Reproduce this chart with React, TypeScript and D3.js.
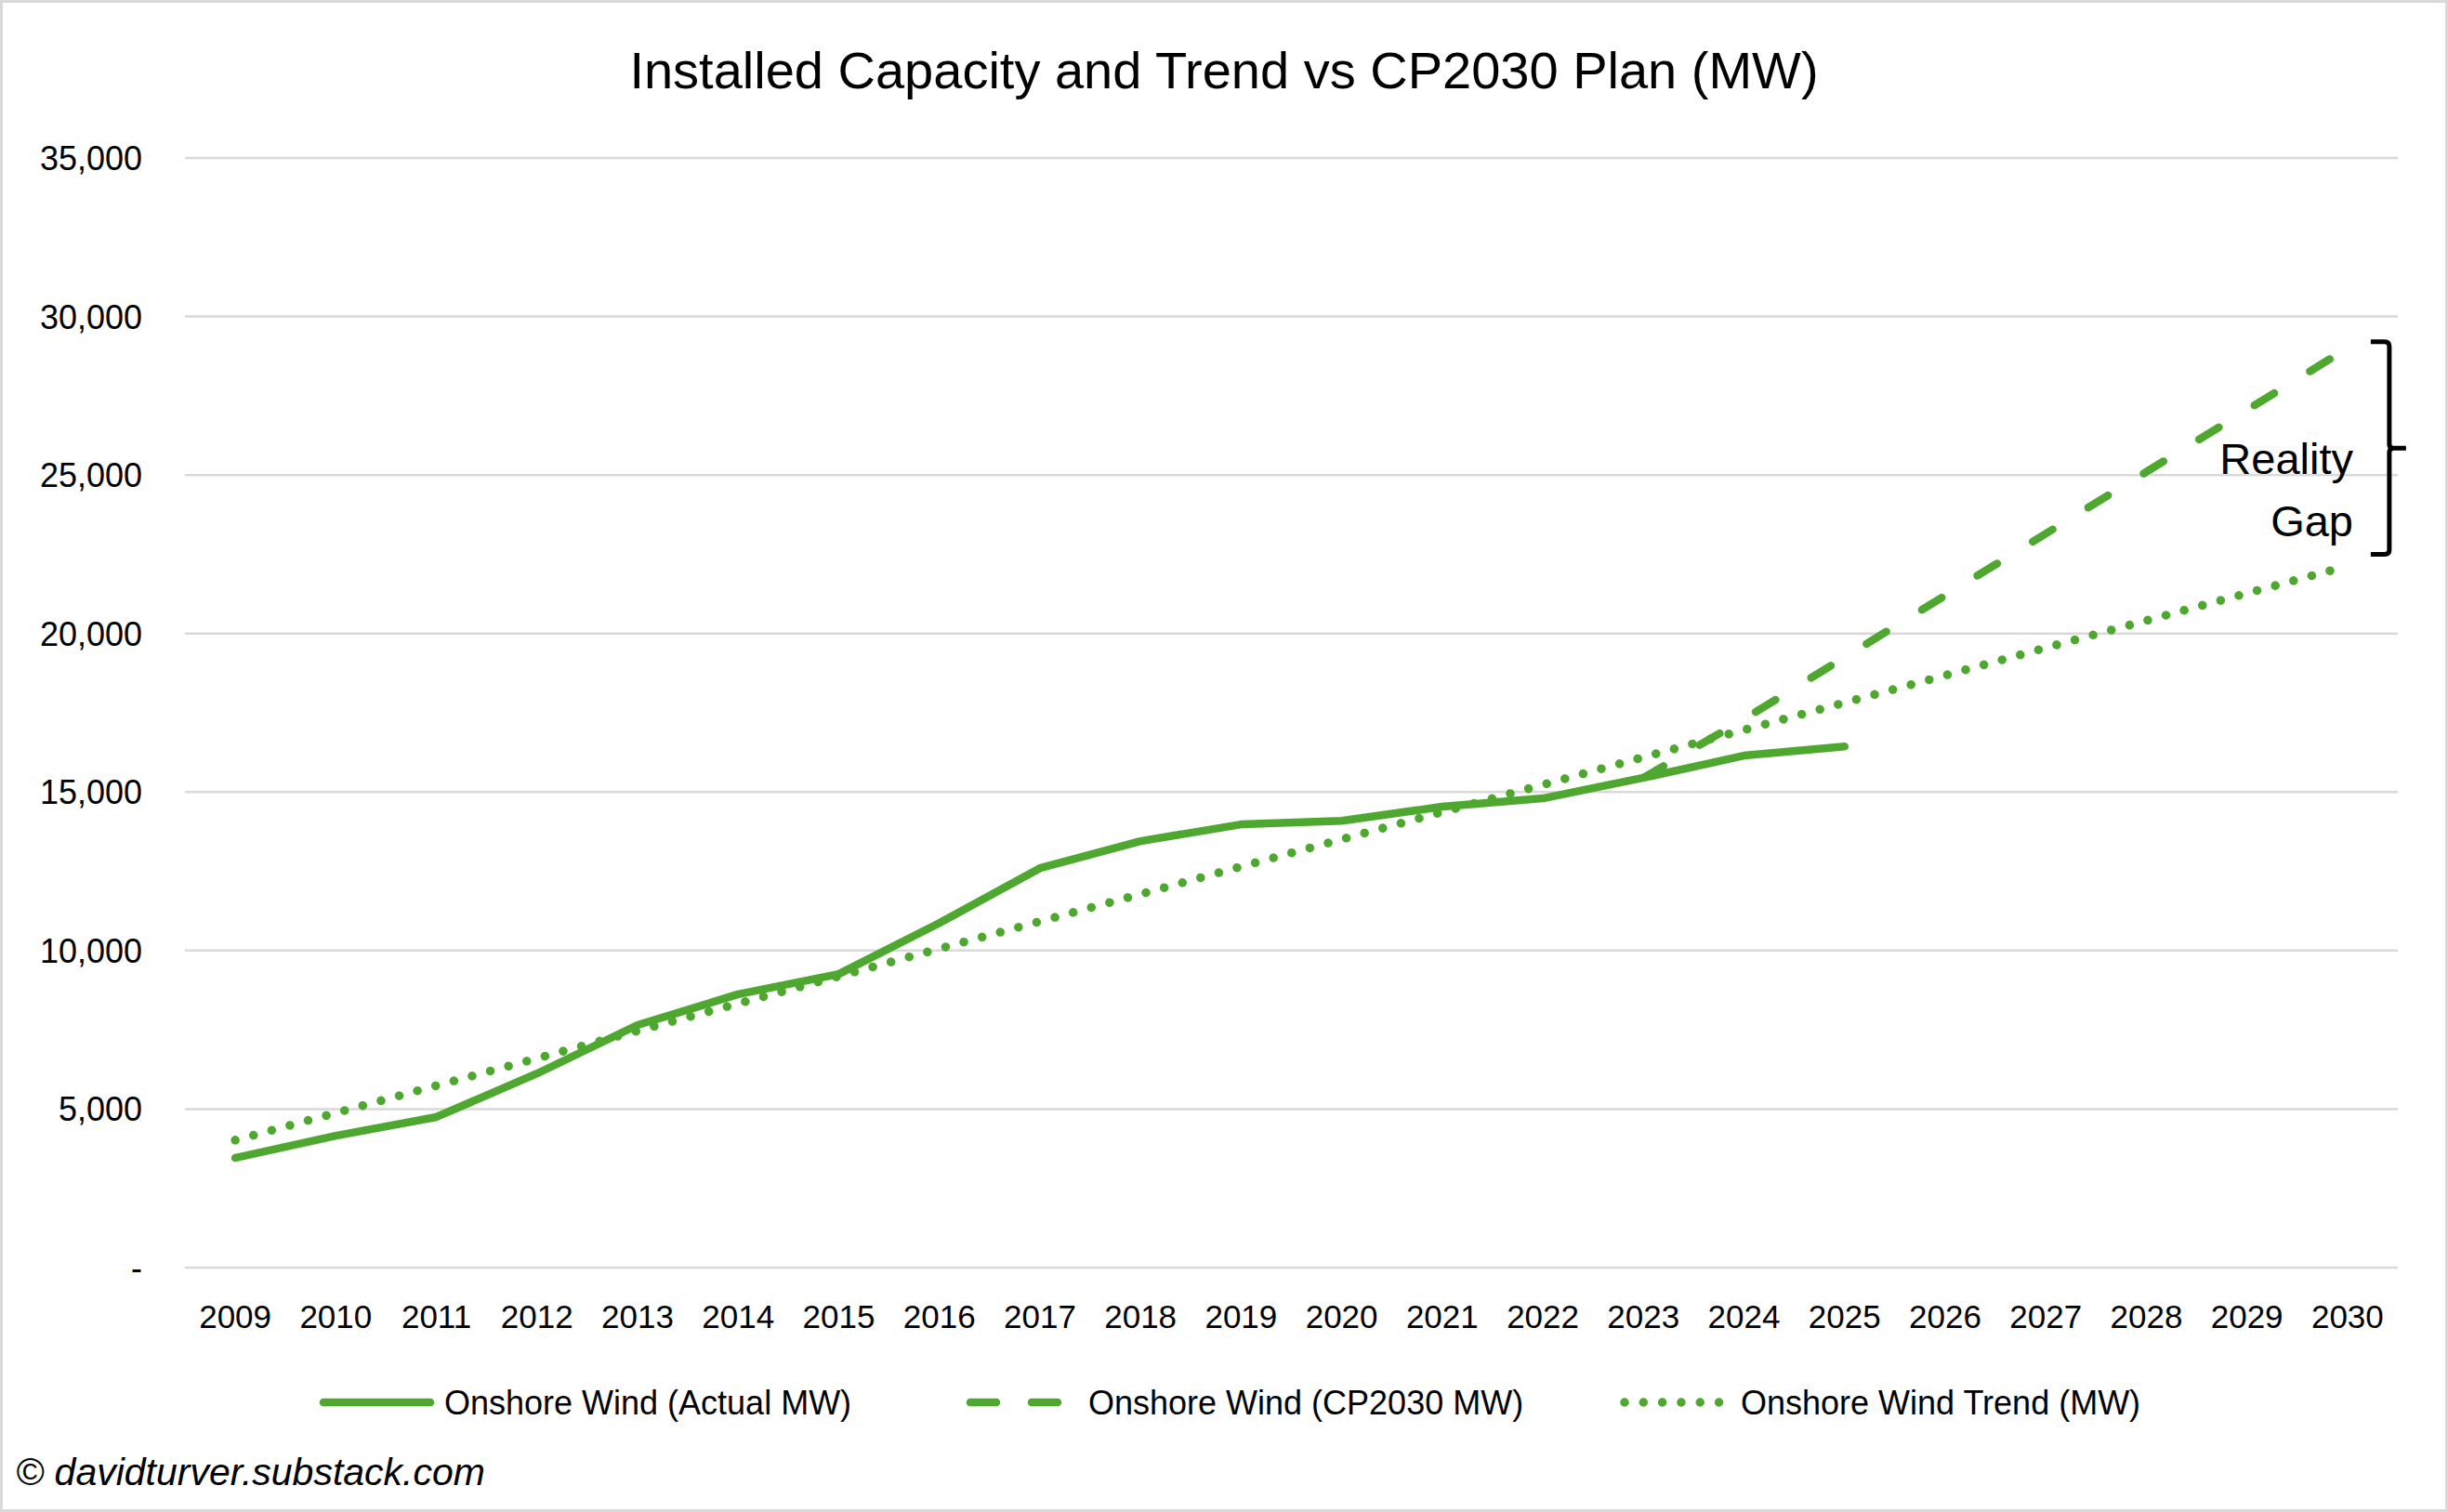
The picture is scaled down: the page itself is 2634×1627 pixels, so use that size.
import * as d3 from "d3";

// categories
const years = [
  "2009", "2010", "2011", "2012", "2013", "2014", "2015", "2016", "2017", "2018", "2019",
  "2020", "2021", "2022", "2023", "2024", "2025", "2026", "2027", "2028", "2029", "2030",
];

// Onshore Wind (Actual MW), 2009-2025
const actualYears = years.slice(0, 17);
const actualMW = [3460, 4160, 4750, 6120, 7650, 8620, 9260, 10870, 12600, 13450, 13980, 14090, 14540, 14800, 15450, 16150, 16440];

// Onshore Wind (CP2030 MW), 2023-2030
const planYears = ["2023", "2024", "2025", "2026", "2027", "2028", "2029", "2030"];
const planMW = [15450, 17300, 19250, 21200, 23150, 25100, 27050, 29000];

// Onshore Wind Trend (MW), 2009-2030
const trendMW = [4020, 4880, 5740, 6600, 7470, 8330, 9190, 10060, 10920, 11780, 12650, 13510, 14370, 15230, 16100, 16960, 17820, 18680, 19550, 20410, 21270, 22130];

const yTicks = [0, 5000, 10000, 15000, 20000, 25000, 30000, 35000];

const W = 2634;
const H = 1627;
const GREEN = "#4ea72e";
const FONT = "'Liberation Sans', Arial, sans-serif";

export default function App() {
  const x = d3.scaleBand<string>().domain(years).range([199, 2580]);
  const cx = (d: string) => (x(d) as number) + x.bandwidth() / 2;
  const y = d3.scaleLinear().domain([0, 35000]).range([1364, 170]);

  const line = d3
    .line<[string, number]>()
    .x((d) => cx(d[0]))
    .y((d) => y(d[1]));

  const actualPath = line(actualYears.map((d, i) => [d, actualMW[i]])) as string;
  const planPath = line(planYears.map((d, i) => [d, planMW[i]])) as string;
  const trendPath = line(years.map((d, i) => [d, trendMW[i]])) as string;

  const fmt = d3.format(",");

  // bracket for "Reality Gap"
  const bx = cx("2030") + 45;
  const top = y(29200);
  const bot = y(22500);
  const mid = (top + bot) / 2;
  const bracket = `M${bx - 20},${top} L${bx - 5},${top} Q${bx},${top} ${bx},${top + 5} L${bx},${mid - 4} Q${bx},${mid} ${bx + 5},${mid} L${bx + 18},${mid} M${bx + 5},${mid} Q${bx},${mid} ${bx},${mid + 4} L${bx},${bot - 5} Q${bx},${bot} ${bx - 5},${bot} L${bx - 20},${bot}`;

  const legendY = 1509;

  return (
    <div style={{ position: "absolute", left: 0, top: 0 }}>
      <svg width={W} height={H} style={{ display: "block", background: "#fff" }} fontFamily={FONT}>
        <rect x={1.5} y={1.5} width={W - 3} height={H - 3} fill="#fff" stroke="#d9d9d9" strokeWidth={3} />

        <text x={W / 2} y={95} textAnchor="middle" fontSize={56} fill="#000">
          Installed Capacity and Trend vs CP2030 Plan (MW)
        </text>

        {yTicks.map((t) => (
          <g key={t}>
            <line x1={199} x2={2580} y1={y(t)} y2={y(t)} stroke="#d9d9d9" strokeWidth={2.5} />
            <text x={153} y={y(t)} dy="0.36em" textAnchor="end" fontSize={36} fill="#000">
              {t === 0 ? "-" : fmt(t)}
            </text>
          </g>
        ))}

        {years.map((d) => (
          <text key={d} x={cx(d)} y={1429} textAnchor="middle" fontSize={35} fill="#000">
            {d}
          </text>
        ))}

        <path d={trendPath} fill="none" stroke={GREEN} strokeWidth={9.5} strokeLinecap="round" strokeDasharray="0.01 20.3" />
        <path d={actualPath} fill="none" stroke={GREEN} strokeWidth={8.5} strokeLinecap="round" strokeLinejoin="round" />
        <path d={planPath} fill="none" stroke={GREEN} strokeWidth={8.5} strokeLinecap="round" strokeDasharray="25 45" />

        <path d={bracket} fill="none" stroke="#000" strokeWidth={5} />
        <text x={2532} y={510} textAnchor="end" fontSize={47} fill="#000">Reality</text>
        <text x={2532} y={577} textAnchor="end" fontSize={47} fill="#000">Gap</text>

        {/* legend */}
        <line x1={348} x2={463} y1={legendY} y2={legendY} stroke={GREEN} strokeWidth={8.5} strokeLinecap="round" />
        <text x={478} y={legendY} dy="0.36em" fontSize={36} fill="#000">Onshore Wind (Actual MW)</text>

        <line x1={1044} x2={1146} y1={legendY} y2={legendY} stroke={GREEN} strokeWidth={8.5} strokeLinecap="round" strokeDasharray="28 38" />
        <text x={1171} y={legendY} dy="0.36em" fontSize={36} fill="#000">Onshore Wind (CP2030 MW)</text>

        <line x1={1748} x2={1850} y1={legendY} y2={legendY} stroke={GREEN} strokeWidth={9.5} strokeLinecap="round" strokeDasharray="0.01 20.3" />
        <text x={1873} y={legendY} dy="0.36em" fontSize={36} fill="#000">Onshore Wind Trend (MW)</text>

        <text x={17} y={1598} fontSize={41} fontStyle="italic" fill="#000">© davidturver.substack.com</text>
      </svg>
    </div>
  );
}
